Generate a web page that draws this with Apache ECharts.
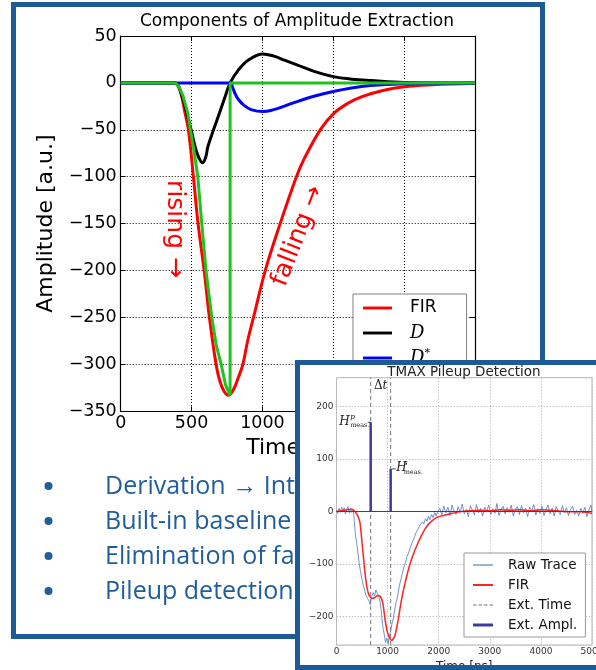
<!DOCTYPE html>
<html>
<head>
<meta charset="utf-8">
<script src="https://cdn.jsdelivr.net/npm/echarts@6/dist/echarts.min.js"></script>
<style>
  html, body { margin: 0; padding: 0; overflow: hidden; background: #fff; }
  #main { position: absolute; left: 0; top: 0; width: 596px; height: 670px; }
  #inset { position: absolute; left: 295px; top: 360px; width: 310px; height: 300px;
           border: 5px solid #1d5a96; background: #fff; }
</style>
</head>
<body>
<div id="main"></div>
<div id="inset"></div>
<script>
// ---- main chart data: [time, amplitude] ----
const firPoints = [[0, 0], [350, 0], [384, 0], [410, -5], [431, -15], [454, -32], [478, -50], [513, -100],
  [546, -150], [589, -200], [626, -250], [673, -300], [700, -318], [730, -329], [760, -333], [795, -327],
  [830, -314], [862, -300], [897, -274], [937, -250], [1020, -200], [1125, -150], [1240, -100], [1291, -82],
  [1408, -50], [1500, -33], [1600, -22], [1703, -14.6], [1850, -8], [2000, -4], [2200, -2], [2500, -0.7]]
const dPoints = [[0, 0], [384, 0], [420, -8], [466, -32], [497, -50], [525, -68], [548, -78.5], [577, -85],
  [600, -79], [615, -68], [655, -50], [697, -32], [737, -14.6], [772, 0], [831, 13.9], [902, 24.5],
  [1003, 30.9], [1080, 28.5], [1160, 24], [1244, 19.2], [1370, 12], [1500, 6.7], [1630, 4], [1762, 2.5],
  [2000, 0.5], [2500, 0]]
const dStarPoints = [[0, 0], [772, 0], [790, -5], [808, -11.7], [831, -17.7], [870, -24], [920, -28.5],
  [1003, -30.6], [1080, -28.5], [1160, -24.5], [1244, -19.9], [1370, -14], [1500, -9.2], [1630, -5.5],
  [1762, -2.8], [2000, -1], [2500, 0]]
const greenPoints = [[0, 0], [384, 0], [410, -4], [440, -14], [473, -32], [492, -50], [520, -75], [544, -100],
  [572, -150], [602, -200], [643, -250], [675, -280], [709, -300], [740, -322], [772, -333], [772, 0], [2500, 0]]

// ---- inset data: [time ns, ADC] ----
const rawTrace = [[0, 2], [25, -4], [50, 6], [75, -2], [100, 8], [125, 0], [150, 7], [175, -5], [200, 4],
  [225, 9], [250, -3], [275, 5], [300, -2], [330, 3], [350, -20], [370, -45], [395, -60], [420, -80],
  [445, -100], [470, -115], [500, -130], [525, -142], [550, -150], [575, -160], [600, -158], [620, -168],
  [640, -172], [660, -178], [680, -165], [700, -160], [720, -155], [745, -162], [770, -150], [800, -152],
  [830, -163], [860, -175], [885, -200], [910, -222], [935, -235], [960, -250], [985, -242], [1010, -253],
  [1035, -238], [1060, -228], [1085, -215], [1110, -205], [1140, -187], [1170, -172], [1200, -160],
  [1230, -142], [1260, -130], [1290, -118], [1320, -106], [1350, -98], [1380, -86], [1410, -80], [1440, -70],
  [1470, -62], [1500, -55], [1530, -48], [1560, -40], [1590, -35], [1620, -28], [1650, -30], [1680, -20],
  [1710, -24], [1740, -14], [1770, -19], [1800, -9], [1830, -16], [1860, -6], [1890, -12], [1920, -2],
  [1950, -9], [1980, 0], [2020, 6], [2060, -6], [2100, 10], [2140, -3], [2180, 8], [2220, -8], [2260, 12],
  [2300, 0], [2340, -6], [2380, 9], [2420, -2], [2460, 14], [2500, -5], [2540, 4], [2580, -10], [2620, 11],
  [2660, 2], [2700, -7], [2740, 13], [2780, -3], [2820, 6], [2860, -9], [2900, 8], [2940, 0], [2980, 12],
  [3020, -6], [3060, 5], [3100, -4], [3140, 15], [3180, -8], [3220, 3], [3260, 10], [3300, -5], [3340, 7],
  [3380, -2], [3420, 12], [3460, -9], [3500, 4], [3540, 9], [3580, -6], [3620, 11], [3660, -3], [3700, 6],
  [3740, -10], [3780, 8], [3820, 1], [3860, 13], [3900, -7], [3940, 5], [3980, -4], [4020, 10], [4060, -8],
  [4100, 3], [4140, 12], [4180, -5], [4220, 6], [4260, -9], [4300, 9], [4340, 0], [4380, -6], [4420, 11],
  [4460, -3], [4500, 7], [4540, -8], [4580, 4], [4620, 10], [4660, -6], [4700, 2], [4740, -9], [4780, 6],
  [4820, -4], [4860, 8], [4900, -10], [4940, 3], [4980, 12], [5000, -2]]
const insetFir = [[0, 0], [100, 1], [200, 3], [280, 4], [340, 2], [395, -5], [430, -12], [460, -22],
  [490, -50], [525, -85], [557, -117], [590, -142], [620, -155], [642, -161], [688, -166], [720, -166],
  [753, -164], [800, -161], [838, -161], [883, -167], [915, -180], [948, -205], [994, -230], [1047, -243],
  [1080, -246], [1099, -245], [1145, -237], [1210, -205], [1275, -167], [1360, -129], [1470, -91],
  [1600, -59], [1730, -34], [1825, -22], [1955, -12], [2120, -7], [2250, -4], [2400, -1], [2600, 1],
  [2800, 2], [3000, 1], [3200, 3], [3400, 2], [3600, 3], [3800, 1], [4000, 3], [4200, 2], [4400, 0],
  [4600, -1], [4800, -1], [5000, -4]]
const extTimes = [669, 1060]
const extAmpls = [170, 81]

const bulletLines = ['Derivation \u2192 Integration', 'Built-in baseline correction',
  'Elimination of false triggers', 'Pileup detection']

const BLUE = '#1d5a96'
const TEXTBLUE = '#1f5d9c'
const plain = v => String(v).replace('-', '\u2212')

// legend glyphs (sized to the legend item box so they are not rescaled)
const ICON_MAIN = 'path://M0,0H30V3H0Z'
const ICON_RAW = 'path://M0,0H20V1.2H0Z'
const ICON_FIR = 'path://M0,0H20V2H0Z'
const ICON_DASH = 'path://M0,0H3.5V1.2H0Z M5.5,0H9V1.2H5.5Z M11,0H14.5V1.2H11Z M16.5,0H20V1.2H16.5Z'
const ICON_AMPL = 'path://M0,0H20V3H0Z'

// ---------------- main chart ----------------
const main = echarts.init(document.getElementById('main'))

const lineSeries = (name, data, color, extra) => Object.assign({
  name, type: 'line', data, symbol: 'none', smooth: 0.4,
  lineStyle: { color, width: 3 }, itemStyle: { color }, emphasis: { disabled: true }
}, extra || {})

const frameAxis = { min: 0, max: 2500, interval: 500 }

main.setOption({
  animation: false,
  title: {
    text: 'Components of Amplitude Extraction',
    left: 297, top: 13, padding: 0, textAlign: 'center',
    textStyle: { fontFamily: 'DejaVu Sans', fontSize: 17, fontWeight: 'normal', color: '#000' }
  },
  grid: { left: 120.7, right: 121, top: 36, bottom: 258.7, outerBoundsMode: 'none' },
  legend: {
    data: [
      { name: 'FIR', icon: ICON_MAIN },
      { name: 'D', icon: ICON_MAIN },
      { name: 'D*', icon: ICON_MAIN }
    ],
    orient: 'vertical', left: 353, top: 294,
    padding: [4, 30, 6, 10],
    itemWidth: 29, itemHeight: 20, itemGap: 5,
    backgroundColor: '#fff', borderColor: '#808080', borderWidth: 1, borderRadius: 0,
    formatter: n => n === 'D' ? '{i|D}' : n === 'D*' ? '{i|D}{s|*}' : n,
    textStyle: {
      fontFamily: 'DejaVu Sans', fontSize: 17, color: '#000', lineHeight: 20, padding: [0, 0, 0, 13],
      rich: {
        i: { fontFamily: 'DejaVu Serif', fontStyle: 'italic', fontSize: 18, color: '#000', lineHeight: 20 },
        s: { fontFamily: 'DejaVu Serif', fontSize: 11, color: '#000', verticalAlign: 'top', lineHeight: 20 }
      }
    }
  },
  xAxis: [{
    type: 'value', ...frameAxis,
    name: 'Time [ns]', nameLocation: 'middle', nameGap: 21,
    nameTextStyle: { fontFamily: 'DejaVu Sans', fontSize: 22, color: '#000' },
    axisLine: { onZero: false, lineStyle: { color: '#000', width: 1.2 } },
    axisTick: { inside: true, length: 5, lineStyle: { color: '#000' } },
    axisLabel: { margin: 3, fontFamily: 'DejaVu Sans', fontSize: 17.5, color: '#000', formatter: plain },
    splitLine: { show: true, lineStyle: { color: '#000', type: [1, 2], width: 1 } }
  }, {
    type: 'value', ...frameAxis, position: 'top',
    axisLine: { onZero: false, lineStyle: { color: '#000', width: 1.2 } },
    axisTick: { inside: true, length: 5, lineStyle: { color: '#000' } },
    axisLabel: { show: false }, splitLine: { show: false }
  }],
  yAxis: [{
    type: 'value', min: -350, max: 50, interval: 50,
    name: 'Amplitude [a.u.]', nameLocation: 'middle', nameGap: 53, nameRotate: 90,
    nameTextStyle: { fontFamily: 'DejaVu Sans', fontSize: 22, color: '#000' },
    axisLine: { show: true, onZero: false, lineStyle: { color: '#000', width: 1.2 } },
    axisTick: { show: true, inside: true, length: 5, lineStyle: { color: '#000' } },
    axisLabel: { margin: 4, fontFamily: 'DejaVu Sans', fontSize: 17.5, color: '#000', formatter: plain },
    splitLine: { show: true, lineStyle: { color: '#000', type: [1, 2], width: 1 } }
  }, {
    type: 'value', min: -350, max: 50, interval: 50, position: 'right',
    axisLine: { show: true, onZero: false, lineStyle: { color: '#000', width: 1.2 } },
    axisTick: { show: true, inside: true, length: 5, lineStyle: { color: '#000' } },
    axisLabel: { show: false }, splitLine: { show: false }
  }],
  series: [
    lineSeries('FIR', firPoints, '#ff0000'),
    lineSeries('D', dPoints, '#000000'),
    lineSeries('D*', dStarPoints, '#0000ff'),
    lineSeries('sum', greenPoints, '#1ec31e', { smooth: false })
  ],
  graphic: [
    {
      type: 'rect', z: 0, silent: true,
      shape: { x: 13.5, y: 4.5, width: 529, height: 632 },
      style: { fill: 'none', stroke: BLUE, lineWidth: 5 }
    },
    {
      type: 'text', x: 174, y: 229, rotation: -Math.PI / 2, z: 50,
      style: { text: 'rising \u2192', fill: '#ff0000', font: '25px "DejaVu Sans"', align: 'center', verticalAlign: 'middle' }
    },
    {
      type: 'text', x: 298, y: 236, rotation: 1.2, z: 50,
      style: { text: 'falling \u2192', fill: '#ff0000', font: '25px "DejaVu Sans"', align: 'center', verticalAlign: 'middle' }
    },
    ...bulletLines.flatMap((t, i) => [
      {
        type: 'circle', z: 50, silent: true,
        shape: { cx: 48.5, cy: 486 + i * 35, r: 4 }, style: { fill: TEXTBLUE }
      },
      {
        type: 'text', x: 105, y: 487 + i * 35, z: 50,
        style: { text: t, fill: TEXTBLUE, font: '25px "Open Sans"', align: 'left', verticalAlign: 'middle' }
      }
    ])
  ]
})

// ---------------- inset chart ----------------
const inset = echarts.init(document.getElementById('inset'))
const GRAYTXT = '#333'

inset.setOption({
  animation: false,
  title: {
    text: 'TMAX Pileup Detection', left: 164, top: 0, padding: 0, textAlign: 'center',
    textStyle: { fontFamily: 'DejaVu Sans', fontSize: 13.5, fontWeight: 'normal', color: '#222' }
  },
  grid: {
    left: 36.5, right: 18, top: 12.7, bottom: 20, outerBoundsMode: 'none',
    show: true, borderColor: '#b4b4b4', borderWidth: 1, backgroundColor: 'transparent'
  },
  legend: {
    data: [
      { name: 'Raw Trace', icon: ICON_RAW },
      { name: 'FIR', icon: ICON_FIR },
      { name: 'Ext. Time', icon: ICON_DASH },
      { name: 'Ext. Ampl.', icon: ICON_AMPL }
    ],
    orient: 'vertical', left: 164, top: 188,
    padding: [5, 8, 5, 9], itemWidth: 20, itemHeight: 14, itemGap: 6,
    backgroundColor: '#fff', borderColor: '#999', borderWidth: 1, borderRadius: 0,
    textStyle: { fontFamily: 'DejaVu Sans', fontSize: 13.5, color: '#111', lineHeight: 14, padding: [0, 0, 0, 10] }
  },
  xAxis: {
    type: 'value', min: 0, max: 5000, interval: 1000,
    name: 'Time [ns]', nameLocation: 'middle', nameGap: 10,
    nameTextStyle: { fontFamily: 'DejaVu Sans', fontSize: 12, color: '#222' },
    axisLine: { show: false, onZero: false }, axisTick: { show: false },
    axisLabel: { margin: 2, fontFamily: 'DejaVu Sans', fontSize: 9, color: GRAYTXT, formatter: plain },
    splitLine: { show: true, lineStyle: { color: '#c4c4c4', type: [1.5, 1.5], width: 1 } }
  },
  yAxis: {
    type: 'value', min: -255, max: 255, splitNumber: 5,
    name: 'Signal [ADC]', nameLocation: 'middle', nameGap: 26, nameRotate: 90,
    nameTextStyle: { fontFamily: 'DejaVu Sans', fontSize: 11, color: '#222' },
    axisLine: { show: false, onZero: false }, axisTick: { show: false },
    axisLabel: { margin: 3, fontFamily: 'DejaVu Sans', fontSize: 9, color: GRAYTXT, formatter: plain,
      showMinLabel: false, showMaxLabel: false },
    splitLine: { show: true, lineStyle: { color: '#c4c4c4', type: [1.5, 1.5], width: 1 } }
  },
  series: [
    {
      name: 'Raw Trace', type: 'line', data: rawTrace, symbol: 'none', z: 3,
      lineStyle: { color: '#5a80b8', width: 1, opacity: 0.85 }, itemStyle: { color: '#5a80b8' },
      emphasis: { disabled: true },
      markLine: {
        silent: true, symbol: 'none', label: { show: false },
        lineStyle: { color: '#444', width: 1, type: 'solid' },
        data: [{ yAxis: 0 }]
      }
    },
    {
      name: 'FIR', type: 'line', data: insetFir, symbol: 'none', smooth: 0.3, z: 4,
      lineStyle: { color: '#f22', width: 1.5 }, itemStyle: { color: '#f22' }, emphasis: { disabled: true }
    },
    ...extTimes.map(t => ({
      name: 'Ext. Time', type: 'line', data: [[t, -255], [t, 255]], symbol: 'none', z: 2,
      lineStyle: { color: '#777', width: 1, type: [4, 3] }, itemStyle: { color: '#777' }, emphasis: { disabled: true }
    })),
    ...extTimes.map((t, i) => ({
      name: 'Ext. Ampl.', type: 'line', data: [[t, 0], [t, extAmpls[i]]], symbol: 'none', z: 5,
      lineStyle: { color: '#3c3c9c', width: 2.5 }, itemStyle: { color: '#3c3c9c' }, emphasis: { disabled: true }
    }))
  ]
})

// math-style annotations anchored to the amplitude markers
const pP = inset.convertToPixel({ gridIndex: 0 }, [extTimes[0], extAmpls[0]])
const pS = inset.convertToPixel({ gridIndex: 0 }, [extTimes[1], extAmpls[1]])
const pT = inset.convertToPixel({ gridIndex: 0 }, [(extTimes[0] + extTimes[1]) / 2, 240])
const serif = (size, italic) => (italic ? 'italic ' : '') + size + 'px "DejaVu Serif"'
const txt = (x, y, text, font, align) => ({
  type: 'text', x, y, z: 20, silent: true,
  style: { text, font, fill: '#222', align: align || 'left', verticalAlign: 'middle' }
})
inset.setOption({
  graphic: [
    txt(pP[0] - 21, pP[1] - 0.5, 'H', serif(12, true), 'right'),
    txt(pP[0] - 20.5, pP[1] - 5.5, 'p', serif(7.5, true)),
    txt(pP[0] - 20.5, pP[1] + 3.5, 'meas.', serif(6.5, false)),
    { type: 'line', z: 20, silent: true, shape: { x1: pP[0] - 3, y1: pP[1], x2: pP[0], y2: pP[1] }, style: { stroke: '#222', lineWidth: 0.8 } },
    { type: 'line', z: 20, silent: true, shape: { x1: pS[0] + 1, y1: pS[1], x2: pS[0] + 5, y2: pS[1] }, style: { stroke: '#222', lineWidth: 0.8 } },
    txt(pS[0] + 5.5, pS[1] - 1, 'H', serif(12, true)),
    txt(pS[0] + 13, pS[1] - 5.5, 's', serif(7.5, true)),
    txt(pS[0] + 13, pS[1] + 3, 'meas.', serif(6.5, false)),
    {
      type: 'text', x: pT[0], y: pT[1], z: 20, silent: true,
      style: {
        text: '{a|\u0394}{b|t}', align: 'center', verticalAlign: 'middle',
        rich: { a: { font: serif(12, false), fill: '#222' }, b: { font: serif(12, true), fill: '#222' } }
      }
    }
  ]
})
</script>
</body>
</html>
